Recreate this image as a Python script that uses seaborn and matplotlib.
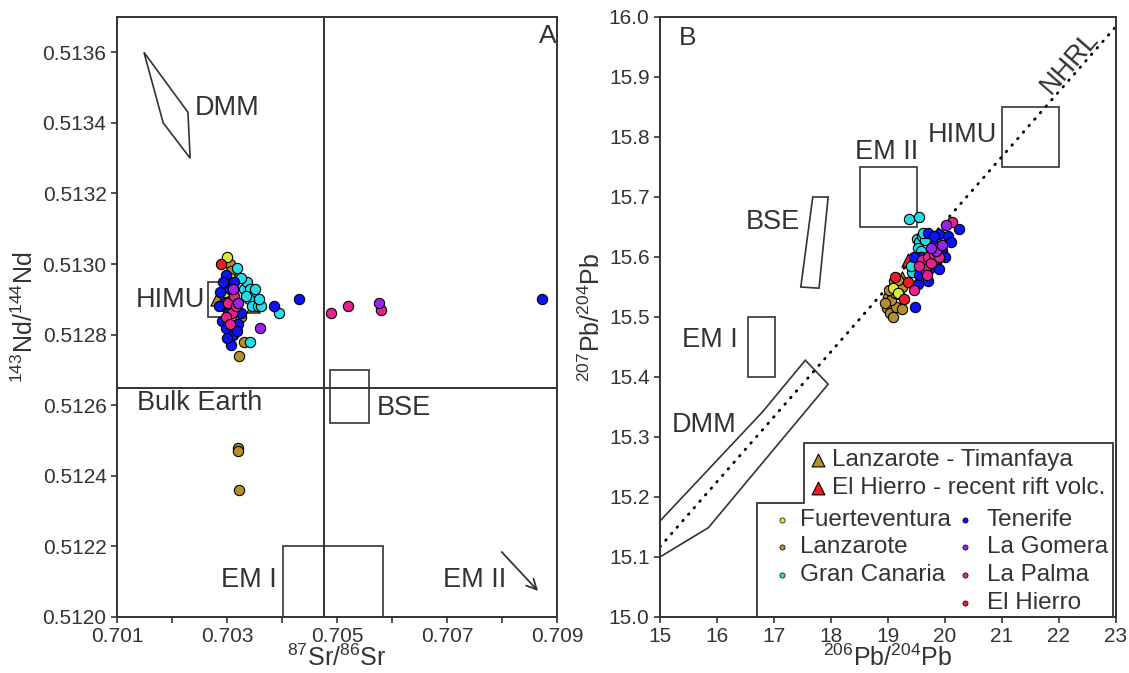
import matplotlib
matplotlib.use("Agg")
import matplotlib.pyplot as plt
from matplotlib.patches import Polygon, Rectangle
import numpy as np
import pandas as pd
import seaborn as sns

# ---------------- Sr-Nd isotope data (panel A) ----------------
fue_sr = [0.70300, 0.70305, 0.70296]
fue_nd = [0.51302, 0.51296, 0.51292]
lan_sr = [0.70305, 0.70314, 0.70310, 0.70318, 0.70322, 0.70331, 0.70320, 0.70320,
          0.70322, 0.70312, 0.70325, 0.70308]
lan_nd = [0.51300, 0.51297, 0.51293, 0.51283, 0.51274, 0.51278, 0.51248, 0.51247,
          0.51236, 0.51290, 0.51285, 0.51298]
gca_sr = [0.70330, 0.70336, 0.70342, 0.70348, 0.70352, 0.70340, 0.70346, 0.70356,
          0.70362, 0.70334, 0.70350, 0.70318, 0.70342, 0.70395, 0.70326, 0.70358]
gca_nd = [0.51293, 0.51295, 0.51293, 0.51291, 0.51289, 0.51290, 0.51288, 0.51288,
          0.51288, 0.51291, 0.51293, 0.51299, 0.51278, 0.51286, 0.51296, 0.51290]
ten_sr = [0.70287, 0.70294, 0.70302, 0.70291, 0.70298, 0.70311, 0.70320, 0.70305,
          0.70316, 0.70325, 0.70298, 0.70313, 0.70285, 0.70308, 0.70300, 0.70385,
          0.70431, 0.70873, 0.70293, 0.70318]
ten_nd = [0.51292, 0.51289, 0.51286, 0.51284, 0.51282, 0.51280, 0.51283, 0.51293,
          0.51289, 0.51286, 0.51297, 0.51295, 0.51288, 0.51277, 0.51279, 0.51288,
          0.51290, 0.51290, 0.51295, 0.51281]
gom_sr = [0.70360, 0.70320, 0.70576, 0.70310]
gom_nd = [0.51282, 0.51289, 0.51289, 0.51293]
pal_sr = [0.70302, 0.70309, 0.70298, 0.70316, 0.70305, 0.70312, 0.70489, 0.70520, 0.70580]
pal_nd = [0.51289, 0.51286, 0.51285, 0.51288, 0.51283, 0.51291, 0.51286, 0.51288, 0.51287]
hie_sr = [0.70289, 0.70298, 0.70294]
hie_nd = [0.51300, 0.51294, 0.51288]
tim_sr = [0.70282, 0.70347, 0.70300]
tim_nd = [0.51290, 0.51288, 0.51291]
rift_sr = [0.70296]
rift_nd = [0.51290]

# ---------------- Pb isotope data (panel B) ----------------
fue_206 = [19.09, 19.18]
fue_207 = [15.548, 15.540]
lan_206 = [18.98, 19.04, 19.09, 19.14, 19.24, 19.00, 19.06, 19.15, 19.24, 19.10,
           19.18, 19.12, 19.20, 18.95, 19.02]
lan_207 = [15.515, 15.506, 15.500, 15.517, 15.514, 15.533, 15.528, 15.553, 15.550,
           15.560, 15.562, 15.540, 15.538, 15.523, 15.545]
gca_206 = [19.36, 19.54, 19.50, 19.55, 19.60, 19.65, 19.52, 19.58, 19.62, 19.48,
           19.56, 19.45, 19.42, 19.40]
gca_207 = [15.663, 15.667, 15.630, 15.625, 15.635, 15.628, 15.615, 15.610, 15.640,
           15.600, 15.600, 15.590, 15.575, 15.585]
ten_206 = [20.25, 19.89, 20.05, 19.47, 19.52, 19.70, 19.80, 19.95, 19.75, 19.85,
           19.90, 20.00, 19.65, 19.60, 19.70, 19.55, 19.80, 19.95, 19.60, 19.45,
           19.72, 20.10]
ten_207 = [15.647, 15.638, 15.635, 15.517, 15.555, 15.640, 15.620, 15.610, 15.600,
           15.590, 15.580, 15.600, 15.575, 15.585, 15.560, 15.570, 15.635, 15.620,
           15.600, 15.600, 15.580, 15.625]
gom_206 = [20.02, 19.85, 19.95, 19.75]
gom_207 = [15.654, 15.610, 15.620, 15.615]
pal_206 = [20.13, 19.60, 19.65, 19.70, 19.75, 19.80, 19.55, 19.46, 19.85, 19.90, 19.68]
pal_207 = [15.658, 15.595, 15.580, 15.600, 15.590, 15.605, 15.585, 15.545, 15.615,
           15.600, 15.570]
hie_206 = [19.35, 19.28, 19.12]
hie_207 = [15.558, 15.530, 15.567]
tim_206 = [19.25]
tim_207 = [15.565]
rift_206 = [19.35]
rift_207 = [15.595]

colors = {
    "Fuerteventura": "#d7ec3a",
    "Lanzarote": "#b68f2a",
    "Gran Canaria": "#25dbe6",
    "Tenerife": "#0a14f5",
    "La Gomera": "#9a22ee",
    "La Palma": "#e6228c",
    "El Hierro": "#ee1d25",
    "Lanzarote - Timanfaya": "#b68f2a",
    "El Hierro - recent rift volc.": "#ee1d25",
}

sr_nd = pd.concat([
    pd.DataFrame({"group": "Fuerteventura", "x": fue_sr, "y": fue_nd}),
    pd.DataFrame({"group": "Lanzarote", "x": lan_sr, "y": lan_nd}),
    pd.DataFrame({"group": "Gran Canaria", "x": gca_sr, "y": gca_nd}),
    pd.DataFrame({"group": "Tenerife", "x": ten_sr, "y": ten_nd}),
    pd.DataFrame({"group": "La Gomera", "x": gom_sr, "y": gom_nd}),
    pd.DataFrame({"group": "La Palma", "x": pal_sr, "y": pal_nd}),
    pd.DataFrame({"group": "El Hierro", "x": hie_sr, "y": hie_nd}),
    pd.DataFrame({"group": "Lanzarote - Timanfaya", "x": tim_sr, "y": tim_nd}),
    pd.DataFrame({"group": "El Hierro - recent rift volc.", "x": rift_sr, "y": rift_nd}),
], ignore_index=True)

pb_pb = pd.concat([
    pd.DataFrame({"group": "Fuerteventura", "x": fue_206, "y": fue_207}),
    pd.DataFrame({"group": "Lanzarote", "x": lan_206, "y": lan_207}),
    pd.DataFrame({"group": "Gran Canaria", "x": gca_206, "y": gca_207}),
    pd.DataFrame({"group": "Tenerife", "x": ten_206, "y": ten_207}),
    pd.DataFrame({"group": "La Gomera", "x": gom_206, "y": gom_207}),
    pd.DataFrame({"group": "La Palma", "x": pal_206, "y": pal_207}),
    pd.DataFrame({"group": "El Hierro", "x": hie_206, "y": hie_207}),
    pd.DataFrame({"group": "Lanzarote - Timanfaya", "x": tim_206, "y": tim_207}),
    pd.DataFrame({"group": "El Hierro - recent rift volc.", "x": rift_206, "y": rift_207}),
], ignore_index=True)

# mantle end-member fields
dmm_a_sr = [0.70149, 0.70229, 0.70233, 0.70184]
dmm_a_nd = [0.51360, 0.51343, 0.51330, 0.51340]
himu_a = (0.70265, 0.51285, 0.00035, 0.00010)   # x, y, width, height
bse_a = (0.70487, 0.51255, 0.00071, 0.00015)
em1_a = (0.70402, 0.51190, 0.00182, 0.00030)
bulk_sr = 0.70476
bulk_nd = 0.51265

dmm_b_206 = [15.00, 16.80, 17.55, 17.95, 15.85, 15.00]
dmm_b_207 = [15.16, 15.342, 15.428, 15.388, 15.149, 15.100]
bse_b_206 = [17.47, 17.79, 17.95, 17.68]
bse_b_207 = [15.550, 15.548, 15.700, 15.700]
himu_b = (21.0, 15.75, 1.0, 0.10)
em2_b = (18.5, 15.65, 1.0, 0.10)
em1_b = (16.55, 15.40, 0.47, 0.10)
nhrl_206 = np.array([15.0, 23.0])
nhrl_207 = 0.1084 * nhrl_206 + 13.491

sns.set_style("ticks")
plt.rcParams["font.family"] = ["Liberation Sans", "DejaVu Sans"]
plt.rcParams["mathtext.default"] = "regular"
ink = "#333333"
plt.rcParams.update({
    "text.color": ink, "axes.labelcolor": ink, "xtick.color": ink, "ytick.color": ink,
    "axes.edgecolor": ink, "axes.linewidth": 1.4,
    "xtick.major.width": 1.2, "ytick.major.width": 1.2,
    "xtick.major.size": 4, "ytick.major.size": 4,
    "xtick.labelsize": 15, "ytick.labelsize": 15,
})

fig = plt.figure(figsize=(11.29, 6.73), dpi=100)
axA = fig.add_axes([117 / 1129, 56 / 673, 440 / 1129, 600 / 673])
axB = fig.add_axes([660 / 1129, 56 / 673, 456 / 1129, 600 / 673])

draw_order = ["Lanzarote - Timanfaya", "El Hierro - recent rift volc.", "Lanzarote",
              "Fuerteventura", "El Hierro", "Gran Canaria", "Tenerife",
              "La Palma", "La Gomera"]


def plot_groups(ax, df):
    for z, g in enumerate(draw_order):
        sub = df[df["group"] == g]
        tri = "-" in g
        sns.scatterplot(data=sub, x="x", y="y", ax=ax, color=colors[g],
                        marker="^" if tri else "o", s=90 if tri else 55,
                        edgecolor="black", linewidth=0.8, legend=False, zorder=5 + z)


line_kw = dict(color=ink, lw=1.2)
ann_fs = 19.5
lab_fs = 18

# ---------------- Panel A ----------------
plot_groups(axA, sr_nd)
axA.axvline(bulk_sr, color=ink, lw=1.4, zorder=2)
axA.axhline(bulk_nd, color=ink, lw=1.4, zorder=2)
axA.add_patch(Polygon(np.column_stack([dmm_a_sr, dmm_a_nd]), closed=True, fill=False, **line_kw))
for bx in (himu_a, bse_a, em1_a):
    axA.add_patch(Rectangle(bx[:2], bx[2], bx[3], fill=False, **line_kw))
axA.annotate("", xy=(0.70869, 0.512068), xytext=(0.70796, 0.51219),
             arrowprops=dict(arrowstyle="->", color=ink, lw=1.3, mutation_scale=18))

axA.set_xlim(0.701, 0.709)
axA.set_ylim(0.5120, 0.5137)
axA.set_xticks(np.arange(0.701, 0.70901, 0.001))
axA.set_xticklabels(["0.701", "", "0.703", "", "0.705", "", "0.707", "", "0.709"])
axA.set_yticks(np.arange(0.5120, 0.51361, 0.0002))
axA.set_yticklabels([f"{v:.4f}" for v in np.arange(0.5120, 0.51361, 0.0002)])
axA.set_xlabel("$^{87}$Sr/$^{86}$Sr", fontsize=lab_fs, labelpad=-1)
axA.set_ylabel("$^{143}$Nd/$^{144}$Nd", fontsize=lab_fs, labelpad=3)

tA = axA.transAxes
axA.text(0.177, 0.848, "DMM", transform=tA, fontsize=ann_fs, va="center", ha="left")
axA.text(0.200, 0.528, "HIMU", transform=tA, fontsize=ann_fs, va="center", ha="right")
axA.text(0.045, 0.357, "Bulk Earth", transform=tA, fontsize=ann_fs, va="center", ha="left")
axA.text(0.591, 0.348, "BSE", transform=tA, fontsize=ann_fs, va="center", ha="left")
axA.text(0.364, 0.062, "EM I", transform=tA, fontsize=ann_fs, va="center", ha="right")
axA.text(0.741, 0.062, "EM II", transform=tA, fontsize=ann_fs, va="center", ha="left")
axA.text(0.980, 0.968, "A", transform=tA, fontsize=19, va="center", ha="center")

# ---------------- Panel B ----------------
plot_groups(axB, pb_pb)
axB.plot(nhrl_206, nhrl_207, color="black", lw=2.0, dashes=(0.3, 2.8),
         dash_capstyle="round", zorder=3)
axB.add_patch(Polygon(np.column_stack([dmm_b_206, dmm_b_207]), closed=True, fill=False, **line_kw))
axB.add_patch(Polygon(np.column_stack([bse_b_206, bse_b_207]), closed=True, fill=False, **line_kw))
for bx in (himu_b, em2_b, em1_b):
    axB.add_patch(Rectangle(bx[:2], bx[2], bx[3], fill=False, **line_kw))

axB.set_xlim(15, 23)
axB.set_ylim(15.0, 16.0)
axB.set_xticks(np.arange(15, 24, 1))
axB.set_yticks(np.round(np.arange(15.0, 16.01, 0.1), 1))
axB.set_yticklabels([f"{v:.1f}" for v in np.arange(15.0, 16.01, 0.1)])
axB.set_xlabel("$^{206}$Pb/$^{204}$Pb", fontsize=lab_fs, labelpad=-1)
axB.set_ylabel("$^{207}$Pb/$^{204}$Pb", fontsize=lab_fs, labelpad=3)

axB.text(20.91, 15.803, "HIMU", fontsize=ann_fs, va="center", ha="right")
axB.text(18.98, 15.775, "EM II", fontsize=ann_fs, va="center", ha="center")
axB.text(17.46, 15.658, "BSE", fontsize=ann_fs, va="center", ha="right")
axB.text(16.37, 15.462, "EM I", fontsize=ann_fs, va="center", ha="right")
axB.text(16.35, 15.320, "DMM", fontsize=ann_fs, va="center", ha="right")
axB.text(22.18, 15.925, "NHRL", fontsize=ann_fs, va="center", ha="center", rotation=49)
axB.text(0.061, 0.965, "B", transform=axB.transAxes, fontsize=19, va="center", ha="center")

# stepped legend frame and entries
tB = axB.transAxes
frame = [(0.2127, 0.0), (0.2127, 0.19), (0.3158, 0.19), (0.3158, 0.29),
         (0.9934, 0.29), (0.9934, 0.0)]
axB.add_patch(Polygon(frame, closed=True, facecolor="white", edgecolor=ink, lw=1.3,
                      transform=tB, zorder=20))
leg_fs = 17.5
for label, fy in (("Lanzarote - Timanfaya", 0.2617), ("El Hierro - recent rift volc.", 0.215)):
    axB.scatter([0.3465], [fy], transform=tB, marker="^", s=85, color=colors[label],
                edgecolor="black", linewidth=0.8, zorder=21, clip_on=False)
    axB.text(0.377, fy, label, transform=tB, fontsize=leg_fs, va="center", ha="left", zorder=21)
col1 = [("Fuerteventura", 0.1617), ("Lanzarote", 0.1167), ("Gran Canaria", 0.070)]
col2 = [("Tenerife", 0.1617), ("La Gomera", 0.1167), ("La Palma", 0.070), ("El Hierro", 0.0233)]
for entries, dx, tx in ((col1, 0.2675, 0.307), (col2, 0.6689, 0.7171)):
    for label, fy in entries:
        axB.scatter([dx], [fy], transform=tB, marker="o", s=14, color=colors[label],
                    edgecolor="black", linewidth=0.5, zorder=21, clip_on=False)
        axB.text(tx, fy, label, transform=tB, fontsize=leg_fs, va="center", ha="left", zorder=21)

for ax in (axA, axB):
    for sp in ax.spines.values():
        sp.set_visible(True)
        sp.set_zorder(30)

fig.savefig("out.png", dpi=100)
